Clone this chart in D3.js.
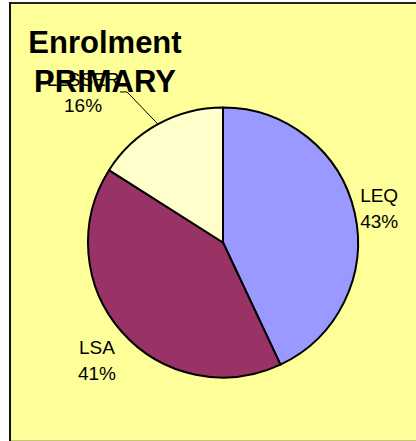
<!DOCTYPE html>
<html><head><meta charset="utf-8">
<script src="https://cdn.jsdelivr.net/npm/d3@7"></script>
<style>html,body{margin:0;padding:0;background:#fff;}svg{display:block;}</style>
</head><body>
<script>
const categories = ["LEQ", "LSA", "LLSSER"];
const values = [43, 41, 16];
const percentLabels = ["43%", "41%", "16%"];
const colors = ["#9999FF", "#993366", "#FFFFCC"];
const titleLines = ["Enrolment", "PRIMARY"];

const W = 416, H = 441;
const svg = d3.select("body").append("svg").attr("width", W).attr("height", H);

// chart area background
svg.append("rect").attr("x", 9).attr("y", 2).attr("width", W).attr("height", 438).attr("fill", "#FFFF99");
svg.append("line").attr("x1", 9).attr("x2", W).attr("y1", 440.5).attr("y2", 440.5).attr("stroke", "#C8C870").attr("stroke-width", 1);
svg.append("line").attr("x1", 9).attr("x2", W).attr("y1", 3).attr("y2", 3).attr("stroke", "#222").attr("stroke-width", 2);
svg.append("line").attr("x1", 10).attr("x2", 10).attr("y1", 2).attr("y2", 441).attr("stroke", "#111").attr("stroke-width", 2);

const cx = 223, cy = 242.5, R = 135;
const g = svg.append("g").attr("transform", `translate(${cx},${cy})`);
const pie = d3.pie().sort(null).value(d => d)(values);
const arc = d3.arc().innerRadius(0).outerRadius(R);

g.selectAll("path.slice").data(pie).join("path")
  .attr("class", "slice")
  .attr("d", arc)
  .attr("fill", (d, i) => colors[i])
  .attr("stroke", "#000").attr("stroke-width", 2).attr("stroke-linejoin", "round");

const font = "Liberation Sans, Arial, sans-serif";
const mid = d => (d.startAngle + d.endAngle) / 2;
const polar = (a, r) => [r * Math.sin(a), -r * Math.cos(a)];

// label placement: radius of label centre along slice mid-angle, plus small tweaks
const labelSpec = [
  {r: 160, dx: 0, dy: 0},
  {r: 172, dx: 3, dy: 4},
  {r: 200, dx: -43.6, dy: 24.7}
];
pie.forEach((d, i) => {
  const [px, py] = polar(mid(d), labelSpec[i].r);
  const x = px + labelSpec[i].dx, y = py + labelSpec[i].dy;
  const t = g.append("text").attr("font-family", font).attr("font-size", 19).attr("fill", "#000")
    .attr("text-anchor", "middle");
  t.append("tspan").attr("x", x).attr("y", y - 6).text(categories[i]);
  t.append("tspan").attr("x", x).attr("y", y + 20).text(percentLabels[i]);
  if (i === 2) {
    const [ex, ey] = polar(mid(d), R);
    const lx = x + 37, ly = y;
    g.append("polyline")
      .attr("points", [[lx, ly], [lx + 7, ly], [ex, ey]].map(p => p.join(",")).join(" "))
      .attr("fill", "none").attr("stroke", "#000").attr("stroke-width", 1);
  }
});

// title
const title = svg.append("text").attr("font-family", font).attr("font-size", 31)
  .attr("font-weight", "bold").attr("text-anchor", "middle").attr("fill", "#000");
titleLines.forEach((s, i) => title.append("tspan").attr("x", 105).attr("y", 53 + i * 39).text(s));
</script>
</body></html>
